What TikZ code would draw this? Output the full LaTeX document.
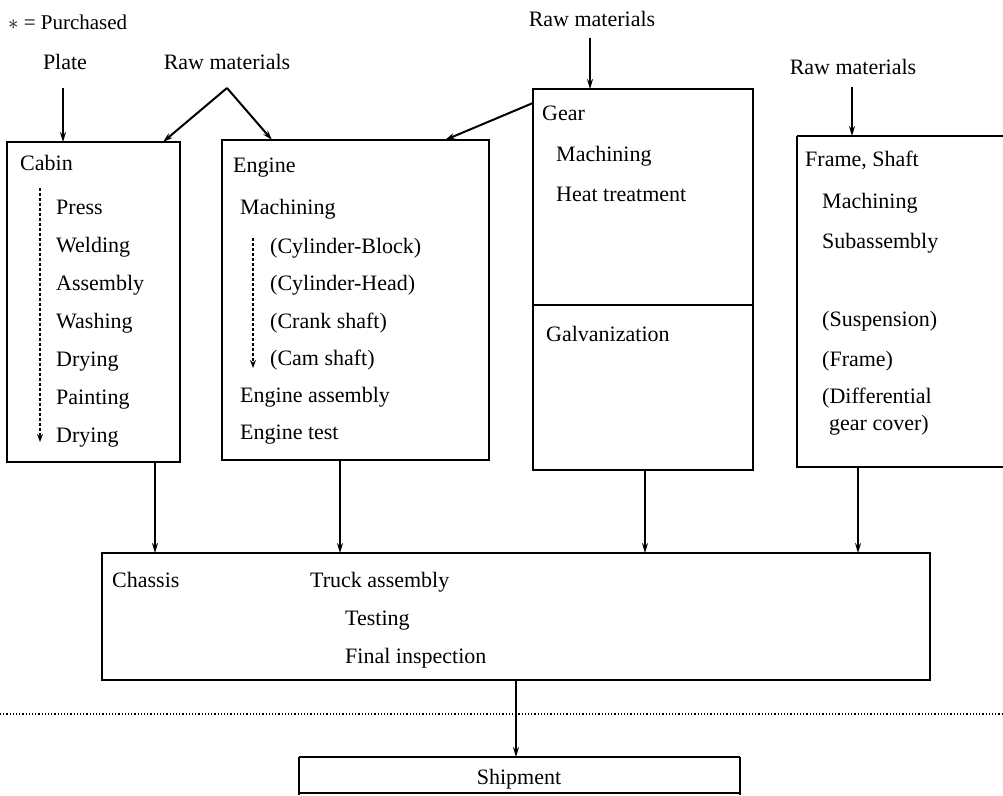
\documentclass[tikz,border=0pt]{standalone}
\usepackage{fontspec}
\setmainfont{Liberation Serif}
\usetikzlibrary{arrows.meta}
\begin{document}
\begin{tikzpicture}[x=1pt,y=-1pt,
  box/.style={draw,line width=1.6pt},
  lbl/.style={anchor=base west,inner sep=0pt,font=\fontsize{22}{26}\selectfont},
  clbl/.style={anchor=base,inner sep=0pt,font=\fontsize{22}{26}\selectfont},
  arr/.style={line width=2pt,-{Stealth[length=10pt,width=6pt]}},
  darr/.style={line width=2.4pt,dash pattern=on 2.5pt off 2.5pt,-{Stealth[length=8pt,width=6pt]}}]
\useasboundingbox (0,0) rectangle (1003,795);
% boxes
\draw[box] (7,142) rectangle (180,462);
\draw[box] (222,140) rectangle (489,460);
\draw[box] (533,89) rectangle (753,470);
\draw[line width=1.2pt] (533,305) -- (753,305);
\draw[box] (797,136) -- (1003,136);
\draw[box] (797,136) -- (797,467) -- (1003,467);
\draw[box] (102,553) rectangle (930,680);
\draw[box] (299,757) -- (299,795);
\draw[box] (740,757) -- (740,795);
\draw[box] (299,757) -- (740,757);
\draw[box] (299,793) -- (740,793);
\draw[line width=1.2pt,dotted] (0,714) -- (1003,714);
% named anchor points
\coordinate (platept) at (63,88);
\coordinate (raw1pt) at (227,88);
\coordinate (raw2pt) at (590,38);
\coordinate (raw3pt) at (852,87);
\coordinate (cabTop) at (63,142);
\coordinate (cabTopR) at (163,142);
\coordinate (engTopL) at (272,140);
\coordinate (engTopR) at (445,140);
\coordinate (gearTop) at (590,89);
\coordinate (gearL) at (533,103);
\coordinate (frTop) at (852,136);
\coordinate (cabBot) at (155,462);
\coordinate (engBot) at (340,460);
\coordinate (gearBot) at (645,470);
\coordinate (frBot) at (858,467);
\coordinate (mainTop1) at (155,553);
\coordinate (mainTop2) at (340,553);
\coordinate (mainTop3) at (645,553);
\coordinate (mainTop4) at (858,553);
\coordinate (mainBot) at (516,680);
\coordinate (shipTop) at (516,757);
% top labels
\node[lbl,font=\fontsize{21}{24}\selectfont] (legend) at (8,29) {$\ast$ = Purchased};
\node[clbl] (plate) at (65,69) {Plate};
\node[clbl] (raw1) at (227,69) {Raw materials};
\node[clbl] (raw2) at (592,27) {Raw materials};
\node[clbl] (raw3) at (853,74) {Raw materials};
\draw[arr] (platept) -- (cabTop);
\draw[arr] (raw1pt) -- (cabTopR);
\draw[arr] (raw1pt) -- (engTopL);
\draw[arr] (raw2pt) -- (gearTop);
\draw[arr] (gearL) -- (engTopR);
\draw[arr] (raw3pt) -- (frTop);
% Cabin text
\node[lbl] (c0) at (20,170) {Cabin};
\node[lbl] (c1) at (56,214) {Press};
\node[lbl] (c2) at (56,252) {Welding};
\node[lbl] (c3) at (56,290) {Assembly};
\node[lbl] (c4) at (56,328) {Washing};
\node[lbl] (c5) at (56,366) {Drying};
\node[lbl] (c6) at (56,404) {Painting};
\node[lbl] (c7) at (56,442) {Drying};
\draw[darr] (40,188) -- (40,442);
% Engine text
\node[lbl] (e0) at (233,172) {Engine};
\node[lbl] (e1) at (240,214) {Machining};
\node[lbl] (e2) at (270,253) {(Cylinder-Block)};
\node[lbl] (e3) at (270,290) {(Cylinder-Head)};
\node[lbl] (e4) at (270,328) {(Crank shaft)};
\node[lbl] (e5) at (270,365) {(Cam shaft)};
\node[lbl] (e6) at (240,402) {Engine assembly};
\node[lbl] (e7) at (240,439) {Engine test};
\draw[darr] (253,238) -- (253,368);
% Gear text
\node[lbl] (g0) at (542,120) {Gear};
\node[lbl] (g1) at (556,161) {Machining};
\node[lbl] (g2) at (556,201) {Heat treatment};
\node[lbl] (g3) at (546,341) {Galvanization};
% Frame text
\node[lbl] (f0) at (805,166) {Frame, Shaft};
\node[lbl] (f1) at (822,208) {Machining};
\node[lbl] (f2) at (822,248) {Subassembly};
\node[lbl] (f3) at (822,326) {(Suspension)};
\node[lbl] (f4) at (822,366) {(Frame)};
\node[lbl] (f5) at (822,403) {(Differential};
\node[lbl] (f6) at (829,430) {gear cover)};
% main text
\node[lbl] (m0) at (112,587) {Chassis};
\node[lbl] (m1) at (310,587) {Truck assembly};
\node[lbl] (m2) at (345,625) {Testing};
\node[lbl] (m3) at (345,663) {Final inspection};
\node[clbl] (ship) at (519,784) {Shipment};
% arrows down
\draw[arr] (cabBot) -- (mainTop1);
\draw[arr] (engBot) -- (mainTop2);
\draw[arr] (gearBot) -- (mainTop3);
\draw[arr] (frBot) -- (mainTop4);
\draw[arr] (mainBot) -- (shipTop);
\end{tikzpicture}
\end{document}
